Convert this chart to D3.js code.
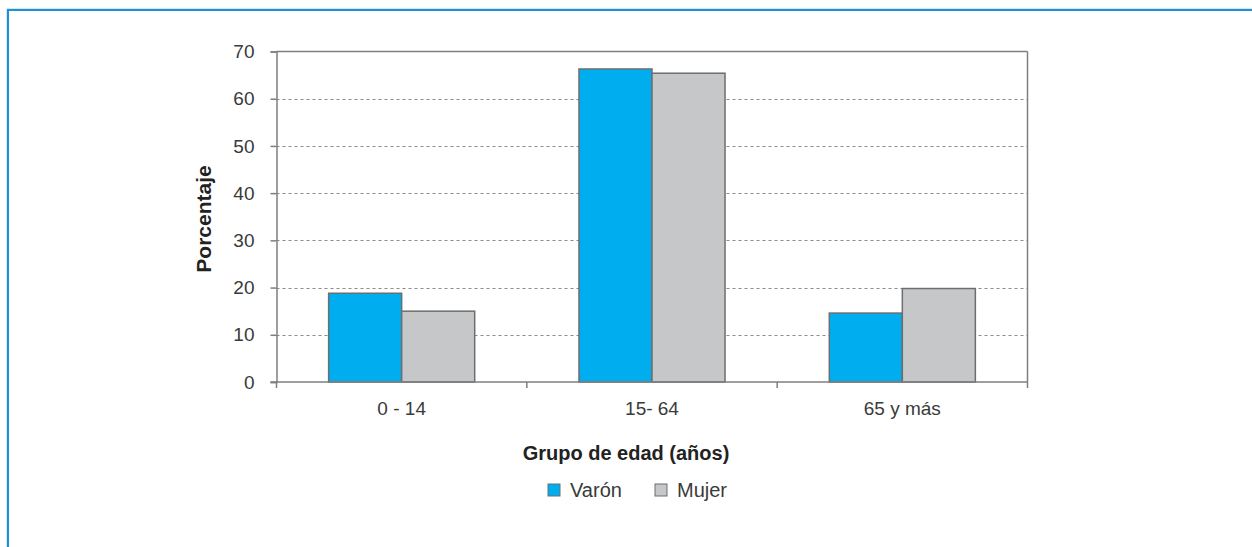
<!DOCTYPE html>
<html><head><meta charset="utf-8">
<script src="https://cdn.jsdelivr.net/npm/d3@7"></script>
<style>body{margin:0;background:#fff}svg{display:block}text{font-family:"Liberation Sans",Arial,sans-serif}</style>
</head><body>
<svg id="c" width="1252" height="547"></svg>
<script>
const categories = ["0 - 14", "15- 64", "65 y más"];
const seriesNames = ["Varón", "Mujer"];
const varon = [18.8, 66.3, 14.6];
const mujer = [15.0, 65.4, 19.8];
const yTicks = [0, 10, 20, 30, 40, 50, 60, 70];
const colors = ["#00AEEF", "#C6C7C9"];

const svg = d3.select("#c");
// frame
svg.append("line").attr("x1",7).attr("x2",1252).attr("y1",8.5).attr("y2",8.5).attr("stroke","#cfe8f7").attr("stroke-width",1);
svg.append("line").attr("x1",6.5).attr("x2",6.5).attr("y1",9).attr("y2",547).attr("stroke","#cfe8f7").attr("stroke-width",1);
svg.append("line").attr("x1",7).attr("x2",1252).attr("y1",10).attr("y2",10).attr("stroke","#1f90d2").attr("stroke-width",2);
svg.append("line").attr("x1",8).attr("x2",8).attr("y1",9).attr("y2",547).attr("stroke","#1f90d2").attr("stroke-width",2);

const L = 276.5, R = 1027.5, T = 51.5, B = 382;
const x = d3.scaleBand().domain(categories).range([L, R]).padding(0);
const xs = d3.scaleBand().domain(seriesNames).range([0, x.bandwidth()]).paddingInner(0).paddingOuter(0.714);
const y = d3.scaleLinear().domain([0, 70]).range([B, T]);

// grid
svg.append("g").selectAll("line").data(yTicks.filter(t => t > 0 && t < 70)).join("line")
  .attr("x1", L).attr("x2", R).attr("y1", d => Math.round(y(d)) + 0.5).attr("y2", d => Math.round(y(d)) + 0.5)
  .attr("stroke", "#8a8a8a").attr("stroke-width", 1).attr("stroke-dasharray", "3,3");

// bars
const data = categories.map((c, i) => ({c, vals: [varon[i], mujer[i]]}));
const g = svg.append("g").selectAll("g").data(data).join("g").attr("transform", d => `translate(${x(d.c)},0)`);
g.selectAll("rect").data(d => d.vals.map((v, j) => ({s: seriesNames[j], v, j}))).join("rect")
  .attr("x", d => xs(d.s)).attr("width", xs.bandwidth())
  .attr("y", d => y(d.v)).attr("height", d => B - y(d.v))
  .attr("fill", d => colors[d.j]).attr("stroke", "#6d6e70").attr("stroke-width", 1.5);

// plot box
svg.append("line").attr("x1", L).attr("x2", R).attr("y1", T).attr("y2", T).attr("stroke", "#7f7f7f").attr("stroke-width", 1.5);
svg.append("line").attr("x1", R).attr("x2", R).attr("y1", T).attr("y2", B).attr("stroke", "#7f7f7f").attr("stroke-width", 1.5);

// y axis
const yAxis = d3.axisLeft(y).tickValues(yTicks).tickSize(6).tickPadding(16);
const ya = svg.append("g").attr("transform", `translate(${L},0)`).call(yAxis);
ya.select(".domain").attr("stroke", "#7f7f7f").attr("stroke-width", 1.5);
ya.selectAll(".tick line").attr("stroke", "#7f7f7f").attr("stroke-width", 1.5);
ya.selectAll(".tick text").attr("font-size", 19).attr("fill", "#3a3a3a").attr("font-family", '"Liberation Sans",Arial,sans-serif');

// x axis
const xa = svg.append("g").attr("transform", `translate(0,${B})`);
xa.append("line").attr("x1", L - 6).attr("x2", R).attr("y1", 0).attr("y2", 0).attr("stroke", "#7f7f7f").attr("stroke-width", 1.5);
const bounds = [L, ...categories.map(c => x(c) + x.bandwidth())];
xa.selectAll("line.tk").data(bounds).join("line").attr("class", "tk")
  .attr("x1", d => d).attr("x2", d => d).attr("y1", 0).attr("y2", 6).attr("stroke", "#7f7f7f").attr("stroke-width", 1.5);
xa.selectAll("text").data(categories).join("text")
  .attr("x", d => x(d) + x.bandwidth() / 2).attr("y", 33).attr("text-anchor", "middle")
  .attr("font-size", 19).attr("fill", "#3a3a3a").text(d => d);

// axis titles
svg.append("text").attr("x", 626).attr("y", 460).attr("text-anchor", "middle")
  .attr("font-size", 20).attr("font-weight", "bold").attr("fill", "#222").text("Grupo de edad (años)");
svg.append("text").attr("transform", "translate(211,219) rotate(-90)").attr("text-anchor", "middle")
  .attr("font-size", 21).attr("font-weight", "bold").attr("fill", "#222").text("Porcentaje");

// legend
const lx = [548, 655];
const lg = svg.append("g").selectAll("g").data(seriesNames).join("g").attr("transform", (d, i) => `translate(${lx[i]},484)`);
lg.append("rect").attr("width", 12).attr("height", 12).attr("fill", (d, i) => colors[i]).attr("stroke", "#6d6e70").attr("stroke-width", 1);
lg.append("text").attr("x", 22).attr("y", 13).attr("font-size", 20).attr("fill", "#3a3a3a").text(d => d);
</script>
</body></html>
